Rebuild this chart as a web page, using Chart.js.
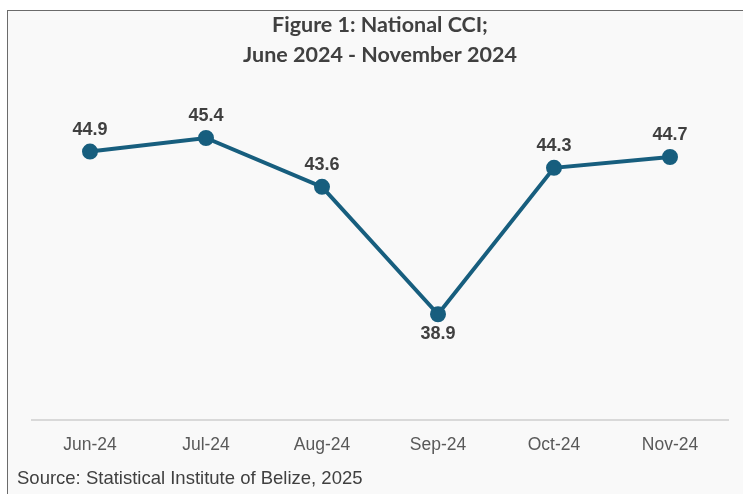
<!DOCTYPE html>
<html>
<head>
<meta charset="utf-8">
<script src="https://cdn.jsdelivr.net/npm/chart.js@4/dist/chart.umd.min.js"></script>
<style>
  html, body { margin: 0; padding: 0; width: 743px; height: 494px; overflow: hidden; background: #ffffff; }
  #frame { position: absolute; left: 7px; top: 10px; width: 800px; height: 600px; border: 1px solid #6b6b6b; background: #f9f9f9; }
  #wrap { position: absolute; left: 0; top: 0; width: 743px; height: 494px; }
  #source { position: absolute; left: 17px; top: 466px; font-family: "Liberation Sans", Arial, sans-serif; font-size: 18.5px; color: #404040; white-space: nowrap; line-height: 24px; }
</style>
</head>
<body>
<div id="frame"></div>
<div id="wrap"><canvas id="c" width="743" height="494"></canvas></div>
<div id="source">Source: Statistical Institute of Belize, 2025</div>
<script>
const categories = ["Jun-24", "Jul-24", "Aug-24", "Sep-24", "Oct-24", "Nov-24"];
const cciValues = [44.9, 45.4, 43.6, 38.9, 44.3, 44.7];
const titleLines = ["Figure 1: National CCI;", "June 2024 - November 2024"];

const lineColor = "#175e7e";

const valueLabels = {
  id: "valueLabels",
  afterDatasetsDraw(chart) {
    const ctx = chart.ctx;
    const meta = chart.getDatasetMeta(0);
    const data = chart.data.datasets[0].data;
    ctx.save();
    ctx.font = "bold 18px 'Liberation Sans', Arial, sans-serif";
    ctx.fillStyle = "#404040";
    ctx.textAlign = "center";
    ctx.textBaseline = "middle";
    meta.data.forEach((pt, i) => {
      const v = data[i];
      const prev = i > 0 ? data[i - 1] : -Infinity;
      const next = i < data.length - 1 ? data[i + 1] : -Infinity;
      const below = v < prev && v < next;
      const y = below ? pt.y + 20 : pt.y - 22;
      ctx.fillText(v.toFixed(1), pt.x, y);
    });
    ctx.restore();
  }
};

new Chart(document.getElementById("c"), {
  type: "line",
  data: {
    labels: categories,
    datasets: [{
      data: cciValues,
      borderColor: lineColor,
      backgroundColor: lineColor,
      borderWidth: 4,
      pointRadius: 6,
      pointHoverRadius: 6,
      pointBackgroundColor: lineColor,
      pointBorderColor: lineColor,
      tension: 0,
      clip: false
    }]
  },
  options: {
    responsive: false,
    animation: false,
    events: [],
    layout: { padding: { left: 32, right: 15, top: 0, bottom: 23 } },
    plugins: {
      legend: { display: false },
      tooltip: { enabled: false },
      title: {
        display: true,
        text: titleLines,
        color: "#404040",
        font: { family: "Lato, 'Open Sans', sans-serif", weight: "bold", size: 21.5, lineHeight: 1.4 },
        padding: { top: 10, bottom: 0 }
      }
    },
    scales: {
      x: {
        offset: true,
        grid: { display: false, drawTicks: false },
        border: { display: true, color: "#d9d9d9", width: 2 },
        ticks: {
          color: "#595959",
          padding: 15,
          font: { family: "'Liberation Sans', Arial, sans-serif", size: 17.5 }
        }
      },
      y: {
        display: false,
        min: 35,
        max: 47.9
      }
    }
  },
  plugins: [valueLabels]
});
</script>
</body>
</html>
